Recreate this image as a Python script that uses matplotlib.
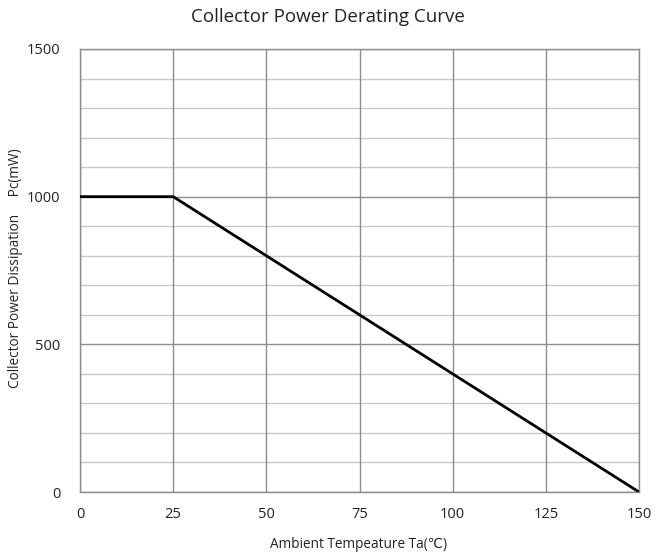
import matplotlib
matplotlib.use("Agg")
import matplotlib.pyplot as plt

plt.rcParams['font.family'] = ['Open Sans', 'DejaVu Sans']

temp = [0, 25, 150]
power = [1000, 1000, 0]
x_ticks = [0, 25, 50, 75, 100, 125, 150]
y_ticks = [0, 500, 1000, 1500]
y_minor = [100, 200, 300, 400, 600, 700, 800, 900, 1100, 1200, 1300, 1400]

fig = plt.figure(figsize=(6.55, 5.60), dpi=100)
ax = fig.add_axes([80/655, 1-492/560, 559/655, 443/560])

for y in y_minor:
    ax.axhline(y, color='#c8c8c8', lw=1.0, zorder=1)
for y in y_ticks:
    ax.axhline(y, color='#8c8c8c', lw=1.0, zorder=1)
for x in x_ticks:
    ax.axvline(x, color='#8c8c8c', lw=1.0, zorder=1)

ax.plot(temp, power, color='black', lw=2.0, zorder=3, solid_capstyle='butt')

ax.set_xlim(0, 150)
ax.set_ylim(0, 1500)
ax.set_xticks(x_ticks)
ax.set_yticks(y_ticks)
ax.tick_params(length=0, labelsize=10.5, colors='#222222')
ax.tick_params(axis='x', pad=11)
ax.tick_params(axis='y', pad=14)
for s in ax.spines.values():
    s.set_color('#8c8c8c')
    s.set_linewidth(1.0)

# labels placed in figure pixels to match the reference
fig.text(359/655, 1-545/560, 'Ambient Tempeature Ta(℃)', ha='center', va='center',
         fontsize=9.8, color='#222222')
fig.text(16/655, 1-268/560, 'Collector Power Dissipation     Pc(mW)', ha='center', va='center',
         rotation=90, fontsize=9.8, color='#222222')
fig.text(0.5, 1-17/560, 'Collector Power Derating Curve', ha='center', va='center',
         fontsize=13.5, color='#222222')

fig.savefig('out.png', dpi=100)
